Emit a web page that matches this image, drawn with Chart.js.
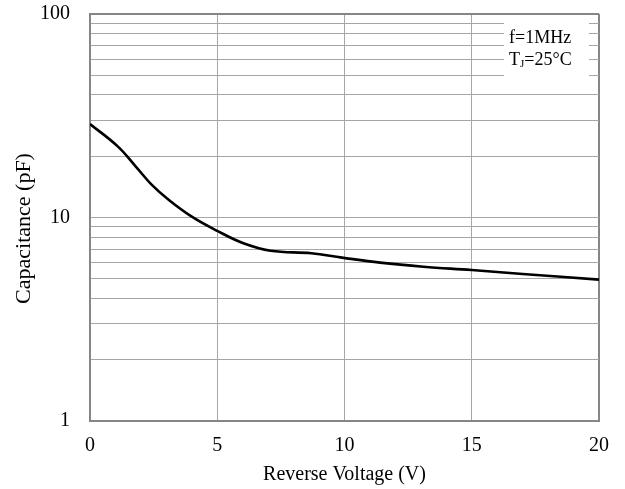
<!DOCTYPE html>
<html>
<head>
<meta charset="utf-8">
<script src="https://cdn.jsdelivr.net/npm/chart.js@4/dist/chart.umd.min.js"></script>
<style>
html,body{margin:0;padding:0;background:#fff;}
#wrap{width:625px;height:489px;position:relative;}
</style>
</head>
<body>
<div id="wrap"><canvas id="c"></canvas></div>
<script>
// Data
const voltage = [0, 1.1, 1.8, 2.4, 3.1, 4.0, 5.0, 6.0, 7.1, 8.7, 9.9, 11.4, 13.1, 15.0, 17.0, 20.0];
const capacitance = [28.8, 22.3, 17.8, 14.6, 12.2, 10.1, 8.6, 7.5, 6.87, 6.67, 6.35, 6.0, 5.73, 5.52, 5.28, 4.95];
const xTicks = [0, 5, 10, 15, 20];
const yGridValues = [1,2,3,4,5,6,7,8,9,10,20,30,40,50,60,70,80,90,100];
const yLabelled = [1, 10, 100];
const xTitle = 'Reverse Voltage (V)';
const yTitle = 'Capacitance (pF)';
const noteLine1 = 'f=1MHz';
const noteLine2 = ['T', 'J', '=25°C'];

const FONT = '"Liberation Serif", "Times New Roman", serif';
const GRID = '#a6a6a6';
const BORDER = '#868686';

const points = voltage.map((v, i) => ({x: v, y: capacitance[i]}));

const notePlugin = {
  id: 'note',
  beforeDatasetsDraw(chart) {
    const {ctx, chartArea} = chart;
    const x0 = chartArea.right - 95, x1 = chartArea.right - 10;
    const y0 = chartArea.top + 2, y1 = chartArea.top + 71;
    ctx.save();
    ctx.fillStyle = '#fff';
    ctx.fillRect(x0, y0, x1 - x0, y1 - y0);
    ctx.fillStyle = '#000';
    ctx.textBaseline = 'middle';
    ctx.textAlign = 'left';
    ctx.font = '18px ' + FONT;
    const tx = chartArea.right - 90;
    ctx.fillText(noteLine1, tx, chartArea.top + 24);
    let x = tx;
    const yy = chartArea.top + 46;
    ctx.fillText(noteLine2[0], x, yy);
    x += ctx.measureText(noteLine2[0]).width;
    ctx.font = '11px ' + FONT;
    ctx.fillText(noteLine2[1], x, yy + 4);
    x += ctx.measureText(noteLine2[1]).width;
    ctx.font = '18px ' + FONT;
    ctx.fillText(noteLine2[2], x, yy);
    ctx.restore();
  }
};

new Chart(document.getElementById('c'), {
  type: 'line',
  data: {
    datasets: [{
      data: points,
      borderColor: '#000',
      borderWidth: 2.6,
      pointRadius: 0,
      fill: false,
      tension: 0.4
    }]
  },
  options: {
    responsive: true,
    maintainAspectRatio: false,
    animation: false,
    layout: {padding: {left: 0, right: 26, top: 14, bottom: 0}},
    plugins: {legend: {display: false}, tooltip: {enabled: false}},
    scales: {
      x: {
        type: 'linear',
        min: 0, max: 20,
        afterBuildTicks(scale) { scale.ticks = xTicks.map(v => ({value: v})); },
        afterFit(scale) { scale.height = 68; scale.paddingLeft = 0; scale.paddingRight = 0; },
        ticks: {
          color: '#000',
          font: {family: FONT, size: 20},
          padding: 13,
          maxRotation: 0,
          autoSkip: false
        },
        grid: {
          drawTicks: false,
          tickLength: 0,
          color: (c) => (c.tick && c.tick.value === 20) ? BORDER : GRID,
          lineWidth: (c) => (c.tick && c.tick.value === 20) ? 2 : 1
        },
        border: {color: BORDER, width: 2},
        title: {
          display: true,
          text: xTitle,
          color: '#000',
          font: {family: FONT, size: 20},
          padding: {top: 0, bottom: 2}
        }
      },
      y: {
        type: 'logarithmic',
        min: 1, max: 100,
        afterBuildTicks(scale) { scale.ticks = yGridValues.map(v => ({value: v})); },
        afterFit(scale) { scale.width = 90; scale.paddingTop = 0; scale.paddingBottom = 0; },
        ticks: {
          color: '#000',
          font: {family: FONT, size: 20},
          padding: 20,
          autoSkip: false,
          callback: (v) => yLabelled.includes(v) ? String(v) : ''
        },
        grid: {
          drawTicks: false,
          tickLength: 0,
          color: (c) => (c.tick && c.tick.value === 100) ? BORDER : GRID,
          lineWidth: (c) => (c.tick && c.tick.value === 100) ? 2 : 1
        },
        border: {color: BORDER, width: 2},
        title: {
          display: true,
          text: yTitle + '    ',
          color: '#000',
          font: {family: FONT, size: 22},
          padding: {top: 11, bottom: 0}
        }
      }
    }
  },
  plugins: [notePlugin]
});
</script>
</body>
</html>
